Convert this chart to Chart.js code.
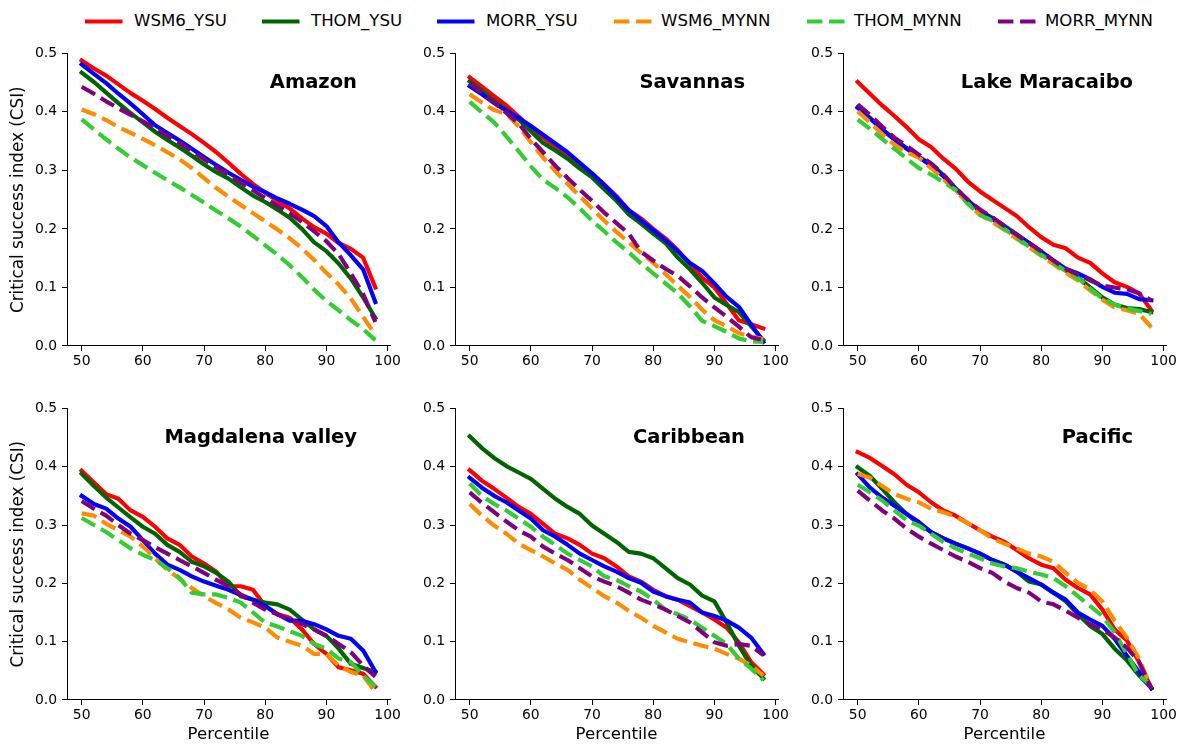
<!DOCTYPE html>
<html>
<head>
<meta charset="utf-8">
<title>Critical success index by percentile</title>
<script src="https://cdn.jsdelivr.net/npm/chart.js@4.4.1/dist/chart.umd.min.js"></script>
<style>
  html, body { margin: 0; padding: 0; background: #fff; width: 1177px; height: 745px; overflow: hidden; }
  body { position: relative; font-family: 'DejaVu Sans', sans-serif; }
  canvas.panel { position: absolute; }
  .lg-item { position: absolute; top: 0; height: 42px; }
  .lg-item svg { position: absolute; left: 0; top: 19px; }
  .lg-item span { position: absolute; top: 11px; line-height: 20px; font-size: 16.6px; color: #000; white-space: nowrap; }
</style>
</head>
<body>
<div id="legend"></div>

<script>
/* ---------- data ---------- */
const percentiles = [50, 52, 54, 56, 58, 60, 62, 64, 66, 68, 70, 72, 74, 76, 78, 80, 82, 84, 86, 88, 90, 92, 94, 96, 98];
const xTicks = [50, 60, 70, 80, 90, 100];
const yTicks = [0, 0.1, 0.2, 0.3, 0.4, 0.5];

const schemes = ['WSM6_YSU', 'THOM_YSU', 'MORR_YSU', 'WSM6_MYNN', 'THOM_MYNN', 'MORR_MYNN'];
const regions = ['Amazon', 'Savannas', 'Lake Maracaibo', 'Magdalena valley', 'Caribbean', 'Pacific'];

// rows follow the order of `schemes`
const amazon = [
  [0.488,0.474,0.462,0.447,0.432,0.419,0.405,0.390,0.376,0.362,0.347,0.331,0.313,0.294,0.277,0.262,0.248,0.235,0.218,0.203,0.192,0.176,0.166,0.151,0.100],
  [0.467,0.451,0.433,0.415,0.398,0.382,0.366,0.352,0.339,0.325,0.310,0.297,0.286,0.271,0.257,0.246,0.233,0.219,0.200,0.177,0.162,0.141,0.115,0.083,0.048],
  [0.481,0.465,0.449,0.431,0.414,0.396,0.377,0.364,0.351,0.337,0.323,0.309,0.296,0.284,0.272,0.263,0.252,0.243,0.233,0.222,0.205,0.177,0.155,0.131,0.075],
  [0.404,0.396,0.386,0.374,0.364,0.354,0.343,0.331,0.319,0.304,0.287,0.270,0.255,0.241,0.227,0.213,0.199,0.184,0.167,0.147,0.125,0.105,0.081,0.050,0.019],
  [0.387,0.370,0.353,0.337,0.322,0.309,0.296,0.283,0.271,0.258,0.245,0.231,0.218,0.204,0.188,0.172,0.156,0.138,0.118,0.096,0.077,0.061,0.044,0.029,0.010],
  [0.443,0.431,0.418,0.406,0.395,0.384,0.372,0.359,0.347,0.333,0.319,0.305,0.293,0.279,0.266,0.253,0.240,0.227,0.212,0.196,0.179,0.157,0.124,0.089,0.041]
];
const savannas = [
  [0.459,0.443,0.427,0.411,0.392,0.371,0.356,0.341,0.325,0.309,0.294,0.276,0.256,0.232,0.218,0.200,0.184,0.164,0.140,0.117,0.100,0.072,0.044,0.037,0.030],
  [0.452,0.436,0.419,0.403,0.387,0.367,0.347,0.334,0.320,0.303,0.288,0.268,0.248,0.225,0.209,0.192,0.176,0.151,0.131,0.108,0.083,0.070,0.058,0.034,0.010],
  [0.444,0.430,0.415,0.402,0.390,0.376,0.361,0.346,0.331,0.313,0.295,0.275,0.254,0.232,0.215,0.198,0.181,0.162,0.142,0.128,0.107,0.084,0.067,0.037,0.007],
  [0.430,0.416,0.403,0.397,0.375,0.348,0.322,0.299,0.277,0.256,0.235,0.214,0.195,0.177,0.159,0.142,0.123,0.103,0.084,0.062,0.044,0.034,0.022,0.016,0.012],
  [0.417,0.399,0.382,0.358,0.333,0.307,0.284,0.270,0.254,0.235,0.214,0.196,0.177,0.160,0.141,0.124,0.107,0.090,0.068,0.043,0.034,0.024,0.013,0.008,0.007],
  [0.449,0.432,0.416,0.398,0.380,0.354,0.331,0.308,0.287,0.267,0.248,0.228,0.210,0.192,0.161,0.146,0.132,0.120,0.102,0.083,0.066,0.050,0.033,0.015,0.010]
];
const maracaibo = [
  [0.451,0.431,0.411,0.393,0.374,0.353,0.340,0.320,0.303,0.281,0.264,0.250,0.236,0.222,0.203,0.186,0.173,0.167,0.151,0.142,0.124,0.109,0.101,0.090,0.061],
  [0.408,0.390,0.370,0.353,0.337,0.323,0.311,0.292,0.269,0.248,0.231,0.219,0.205,0.191,0.176,0.161,0.145,0.129,0.117,0.100,0.083,0.071,0.065,0.063,0.058],
  [0.407,0.389,0.370,0.353,0.338,0.323,0.308,0.290,0.269,0.249,0.230,0.217,0.203,0.189,0.176,0.161,0.146,0.132,0.124,0.114,0.101,0.091,0.089,0.080,0.078],
  [0.401,0.382,0.362,0.344,0.331,0.322,0.304,0.285,0.265,0.244,0.224,0.212,0.198,0.183,0.169,0.154,0.140,0.125,0.112,0.095,0.079,0.066,0.061,0.055,0.032],
  [0.387,0.371,0.354,0.337,0.320,0.304,0.293,0.280,0.267,0.243,0.224,0.214,0.200,0.185,0.170,0.156,0.142,0.128,0.116,0.098,0.081,0.071,0.064,0.060,0.055],
  [0.413,0.395,0.375,0.356,0.342,0.327,0.312,0.293,0.270,0.250,0.233,0.220,0.205,0.190,0.176,0.162,0.146,0.132,0.122,0.112,0.103,0.100,0.097,0.090,0.078]
];
const magdalena = [
  [0.393,0.373,0.353,0.345,0.325,0.314,0.297,0.277,0.266,0.246,0.234,0.220,0.195,0.195,0.189,0.161,0.147,0.141,0.121,0.096,0.079,0.056,0.051,0.045,0.023],
  [0.388,0.367,0.347,0.330,0.313,0.297,0.285,0.266,0.254,0.237,0.229,0.218,0.203,0.178,0.172,0.167,0.164,0.155,0.138,0.121,0.110,0.088,0.062,0.055,0.048],
  [0.350,0.336,0.328,0.311,0.297,0.274,0.251,0.232,0.223,0.212,0.203,0.196,0.189,0.180,0.172,0.161,0.147,0.136,0.136,0.130,0.121,0.110,0.105,0.085,0.049],
  [0.320,0.316,0.302,0.291,0.280,0.263,0.243,0.223,0.208,0.192,0.178,0.166,0.155,0.141,0.133,0.124,0.107,0.100,0.093,0.079,0.079,0.059,0.048,0.042,0.014],
  [0.312,0.300,0.288,0.274,0.260,0.249,0.240,0.226,0.209,0.184,0.181,0.181,0.175,0.167,0.150,0.133,0.126,0.118,0.110,0.096,0.088,0.071,0.065,0.042,0.023],
  [0.341,0.328,0.316,0.300,0.285,0.274,0.262,0.251,0.240,0.229,0.218,0.206,0.195,0.181,0.167,0.155,0.147,0.138,0.130,0.121,0.110,0.096,0.082,0.059,0.040]
];
const caribbean = [
  [0.394,0.376,0.362,0.347,0.331,0.319,0.302,0.285,0.277,0.266,0.251,0.243,0.229,0.212,0.203,0.189,0.178,0.172,0.161,0.150,0.138,0.124,0.099,0.065,0.044],
  [0.452,0.432,0.415,0.401,0.390,0.379,0.362,0.345,0.331,0.319,0.299,0.285,0.271,0.254,0.251,0.243,0.226,0.209,0.198,0.179,0.169,0.133,0.093,0.059,0.037],
  [0.381,0.364,0.350,0.339,0.325,0.311,0.291,0.280,0.266,0.251,0.240,0.229,0.220,0.209,0.201,0.186,0.178,0.172,0.167,0.150,0.144,0.136,0.124,0.107,0.079],
  [0.336,0.316,0.299,0.285,0.268,0.257,0.246,0.234,0.223,0.206,0.192,0.178,0.167,0.153,0.141,0.127,0.116,0.105,0.099,0.093,0.088,0.079,0.071,0.059,0.042],
  [0.371,0.350,0.336,0.325,0.311,0.297,0.280,0.266,0.251,0.240,0.229,0.212,0.206,0.195,0.186,0.172,0.155,0.147,0.138,0.124,0.110,0.096,0.071,0.054,0.034],
  [0.356,0.338,0.322,0.306,0.291,0.280,0.263,0.251,0.240,0.226,0.212,0.203,0.195,0.184,0.172,0.164,0.155,0.144,0.133,0.116,0.099,0.093,0.096,0.093,0.077]
];
const pacific = [
  [0.425,0.415,0.401,0.387,0.369,0.356,0.339,0.325,0.316,0.303,0.291,0.280,0.271,0.257,0.243,0.232,0.226,0.206,0.192,0.181,0.155,0.121,0.102,0.065,0.020],
  [0.399,0.384,0.362,0.339,0.319,0.302,0.288,0.277,0.268,0.260,0.251,0.240,0.232,0.220,0.203,0.198,0.184,0.169,0.147,0.127,0.113,0.088,0.068,0.042,0.021],
  [0.387,0.364,0.347,0.333,0.319,0.305,0.288,0.277,0.268,0.260,0.251,0.240,0.232,0.220,0.209,0.198,0.184,0.172,0.150,0.138,0.127,0.105,0.076,0.048,0.020],
  [0.388,0.381,0.367,0.353,0.345,0.339,0.328,0.322,0.314,0.303,0.291,0.277,0.268,0.260,0.251,0.246,0.237,0.218,0.201,0.189,0.169,0.136,0.107,0.071,0.020],
  [0.369,0.356,0.342,0.325,0.308,0.299,0.285,0.271,0.260,0.251,0.243,0.234,0.229,0.226,0.220,0.215,0.209,0.195,0.178,0.161,0.144,0.116,0.079,0.042,0.025],
  [0.359,0.342,0.325,0.311,0.294,0.280,0.268,0.257,0.246,0.237,0.226,0.218,0.203,0.192,0.184,0.169,0.164,0.153,0.141,0.130,0.121,0.107,0.090,0.065,0.020]
];
const regionData = [amazon, savannas, maracaibo, magdalena, caribbean, pacific];

/* ---------- styling ---------- */
const colors = ['#ff0000', '#006400', '#0000ff', '#ff8c00', '#32cd32', '#800080'];
const DASH = [15.4, 6.7];
const LW = 4.17;
const FONT = "'DejaVu Sans', sans-serif";

// plot area edges in page pixels
const colLeft = [67, 455, 843];
const plotW = 323;
const rowTop = [50, 405];
const rowH = [296, 295];
const Y_AXIS_W = 62, X_AXIS_H = 45, PAD_TOP = 10, PAD_RIGHT = 16;

const legendX = [85, 262, 437, 614, 807, 998];

/* ---------- legend ---------- */
function buildLegend() {
  const box = document.getElementById('legend');
  schemes.forEach((name, i) => {
    const item = document.createElement('div');
    item.className = 'lg-item';
    item.style.left = legendX[i] + 'px';
    const dashed = i >= 3;
    item.innerHTML =
      `<svg width="38" height="5"><line x1="0" y1="2.5" x2="37.5" y2="2.5" stroke="${colors[i]}" stroke-width="${LW}"` +
      (dashed ? ` stroke-dasharray="${DASH.join(' ')}"` : '') + `/></svg>` +
      `<span style="left:${dashed ? 47 : 49}px">${name}</span>`;
    box.appendChild(item);
  });
}

/* region name inside each panel */
const panelTitle = {
  id: 'panelTitle',
  afterDraw(chart, args, opts) {
    const { ctx, chartArea } = chart;
    ctx.save();
    ctx.font = `bold 19.5px ${FONT}`;
    ctx.fillStyle = '#000';
    ctx.textAlign = 'right';
    ctx.textBaseline = 'alphabetic';
    ctx.fillText(opts.text, chartArea.right - 33, chartArea.top + 35);
    ctx.restore();
  }
};

function makePanel(idx) {
  const col = idx % 3, row = Math.floor(idx / 3);
  const canvas = document.createElement('canvas');
  canvas.className = 'panel';
  const w = Y_AXIS_W + plotW + PAD_RIGHT;
  const h = PAD_TOP + rowH[row] + X_AXIS_H;
  canvas.width = w;
  canvas.height = h;
  canvas.style.left = (colLeft[col] - Y_AXIS_W) + 'px';
  canvas.style.top = (rowTop[row] - PAD_TOP) + 'px';
  canvas.style.width = w + 'px';
  canvas.style.height = h + 'px';
  document.body.appendChild(canvas);

  const datasets = schemes.map((name, i) => ({
    label: name,
    data: regionData[idx][i].map((v, k) => ({ x: percentiles[k], y: v })),
    borderColor: colors[i],
    backgroundColor: colors[i],
    borderWidth: LW,
    borderDash: i >= 3 ? DASH : [],
    borderCapStyle: i >= 3 ? 'butt' : 'square',
    borderJoinStyle: 'round',
    pointRadius: 0,
    tension: 0,
    fill: false,
    order: 5 - i
  }));

  new Chart(canvas, {
    type: 'line',
    data: { datasets },
    plugins: [panelTitle],
    options: {
      responsive: false,
      animation: false,
      devicePixelRatio: 1,
      layout: { padding: { top: PAD_TOP, right: PAD_RIGHT, left: 0, bottom: 0 } },
      plugins: {
        legend: { display: false },
        tooltip: { enabled: false },
        panelTitle: { text: regions[idx] }
      },
      scales: {
        x: {
          type: 'linear',
          min: 47.6, max: 100.4,
          afterBuildTicks: s => { s.ticks = xTicks.map(v => ({ value: v })); },
          afterFit: s => { s.height = X_AXIS_H; },
          grid: { display: true, drawOnChartArea: false, drawTicks: true, tickLength: 5, color: '#000', lineWidth: 1 },
          border: { display: true, color: '#000', width: 1 },
          ticks: { color: '#000', padding: 2, maxRotation: 0, autoSkip: false, font: { family: FONT, size: 13.9 } },
          title: {
            display: row === 1, text: 'Percentile', color: '#000',
            font: { family: FONT, size: 16.6 }, padding: { top: 0, bottom: 0 }
          }
        },
        y: {
          min: 0, max: 0.5,
          afterBuildTicks: s => { s.ticks = yTicks.map(v => ({ value: v })); },
          afterFit: s => { s.width = Y_AXIS_W; },
          grid: { display: true, drawOnChartArea: false, drawTicks: true, tickLength: 5, color: '#000', lineWidth: 1 },
          border: { display: true, color: '#000', width: 1 },
          ticks: { color: '#000', padding: 5, callback: v => v.toFixed(1), font: { family: FONT, size: 13.9 } },
          title: {
            display: col === 0, text: 'Critical success index (CSI)', color: '#000',
            font: { family: FONT, size: 16.8 }, padding: { top: 4, bottom: 0 }
          }
        }
      }
    }
  });
}

document.addEventListener('DOMContentLoaded', () => {
  buildLegend();
  regions.forEach((r, i) => makePanel(i));
});
</script>
</body>
</html>
